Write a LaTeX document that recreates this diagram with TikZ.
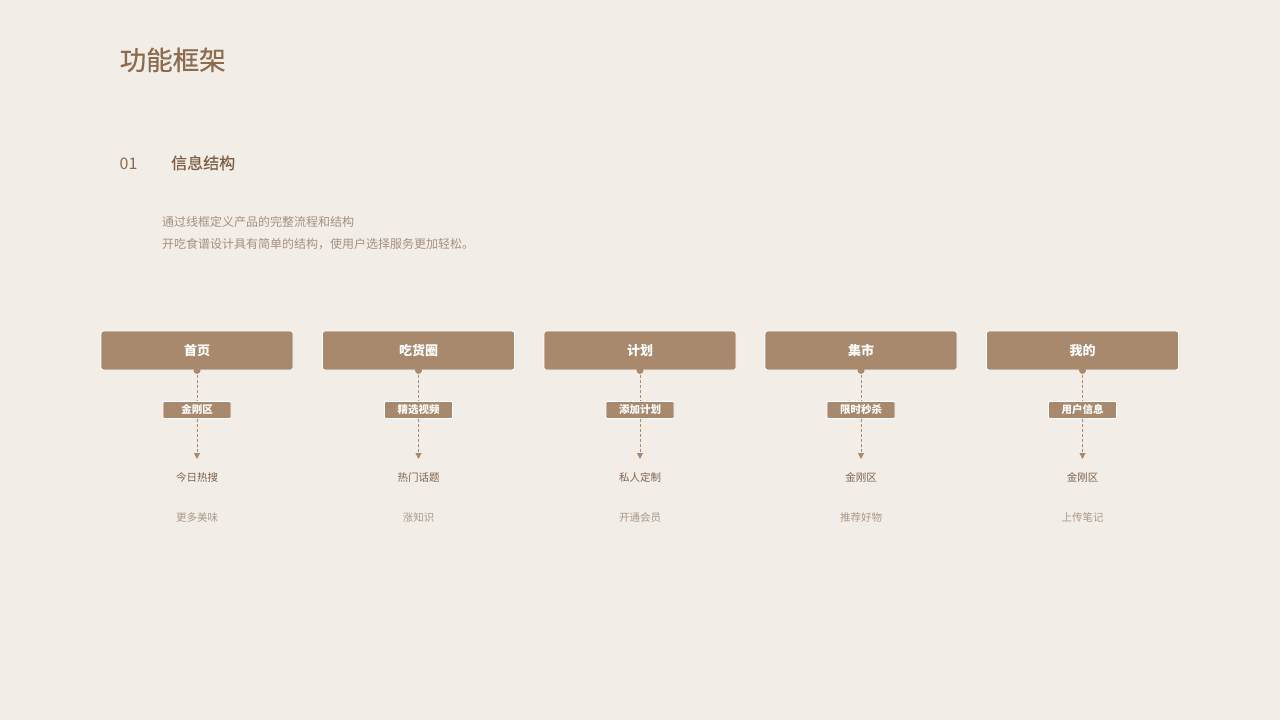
\documentclass[tikz,border=0pt]{standalone}
\usepackage{fontspec}
\setmainfont{Noto Sans CJK SC}
\newfontfamily\semifont{Noto Sans CJK SC}[FakeBold=0.6]
\newfontfamily\medfont{Noto Sans CJK SC}[FakeBold=0.35]
\usetikzlibrary{arrows.meta}
\definecolor{bgc}{HTML}{F2EDE7}
\definecolor{boxc}{HTML}{A8896D}
\definecolor{titlec}{HTML}{8C6B4F}
\definecolor{headc}{HTML}{7E5F45}
\definecolor{bodyc}{HTML}{A59180}
\definecolor{childa}{HTML}{7D634E}
\definecolor{childb}{HTML}{A8998A}
\tikzset{
  txt/.style={inner sep=0pt},
  mainbox/.style={rectangle, rounded corners=2.5pt, fill=boxc, draw=white, line width=0.8pt,
    minimum width=192pt, minimum height=39pt, inner sep=0pt, text=white,
    text height=11.4pt, text depth=1.6pt,
    font=\bfseries\fontsize{13}{15}\selectfont},
  labbox/.style={rectangle, rounded corners=1pt, fill=boxc, draw=white, line width=0.8pt,
    minimum width=68pt, minimum height=17pt, inner sep=0pt, text=white,
    text height=9.24pt, text depth=1.26pt,
    font=\bfseries\fontsize{10.5}{12}\selectfont},
  childone/.style={txt, anchor=base, text=childa, font=\fontsize{10.5}{12}\selectfont},
  childtwo/.style={txt, anchor=base, text=childb, font=\fontsize{10.5}{12}\selectfont},
  conn/.style={draw=boxc, line width=1pt, dash pattern=on 3pt off 2pt},
  connarrow/.style={conn, -{Triangle[width=6pt,length=6pt]}, shorten >=0pt},
}
\begin{document}
\begin{tikzpicture}[x=1pt,y=-1pt]
\fill[bgc] (0,0) rectangle (1280,720);
\useasboundingbox (0,0) rectangle (1280,720);

\node[txt, anchor=base west, text=titlec, font=\semifont\fontsize{26.5}{30}\selectfont] (title) at (119.5,70) {功能框架};
\node[txt, anchor=base west, text=titlec, font=\fontsize{16}{18}\selectfont] (num) at (119.5,169) {01};
\node[txt, anchor=base west, text=headc, font=\medfont\fontsize{16}{18}\selectfont] (head) at (171,169) {信息结构};
\node[txt, anchor=base west, text=bodyc, font=\fontsize{12}{14}\selectfont] (bodya) at (162,226.6) {通过线框定义产品的完整流程和结构};
\node[txt, anchor=base west, text=bodyc, font=\fontsize{12}{14}\selectfont] (bodyb) at (162,248.6) {开吃食谱设计具有简单的结构，使用户选择服务更加轻松。};

\foreach \i/\x/\m/\l/\a/\b in {
  1/197/首页/金刚区/今日热搜/更多美味,
  2/418.5/吃货圈/精选视频/热门话题/涨知识,
  3/640/计划/添加计划/私人定制/开通会员,
  4/861/集市/限时秒杀/金刚区/推荐好物,
  5/1082.5/我的/用户信息/金刚区/上传笔记}{
  \node[mainbox] (b\i) at (\x,350.5) {\m};
  \fill[boxc] (b\i.south) circle[radius=3.5pt];
  \node[labbox] (l\i) at (\x,410) {\l};
  \coordinate (t\i) at (\x,459);
  \draw[conn] (b\i.south) -- (l\i.north);
  \draw[connarrow] (l\i.south) -- (t\i);
  \node[childone] (c\i) at (\x,481) {\a};
  \node[childtwo] (d\i) at (\x,521) {\b};
}
\end{tikzpicture}
\end{document}
